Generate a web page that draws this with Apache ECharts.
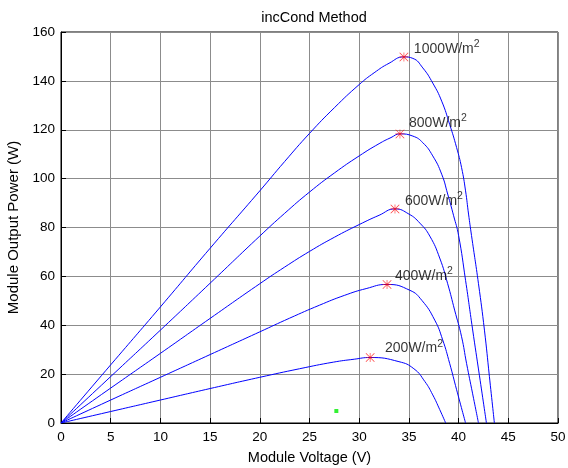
<!DOCTYPE html>
<html>
<head>
<meta charset="utf-8">
<script src="https://cdn.jsdelivr.net/npm/echarts@6/dist/echarts.min.js"></script>
<style>html,body{margin:0;padding:0;background:#fff;}#c{width:568px;height:468px;}</style>
</head>
<body>
<div id="c"></div>
<script>
var titleText = 'incCond Method';
var xName = 'Module Voltage (V)';
var yName = 'Module Output Power (W)';

var curve1000 = [[0,0],[5,23.8],[10,47.5],[15,71.5],[20,95],[22.5,107],[25,118.5],[27.5,129],[30,138.5],[31.5,143.3],[33,147.2],[34.5,149.8],[35.4,149.2],[36.4,145.3],[37.4,139.1],[38.3,131.7],[39.1,122.2],[39.8,112.7],[40.3,104.5],[40.7,95],[41.0,85.5],[41.3,76.7],[42.0,57],[42.6,38],[43.1,19],[43.6,0]];
var curve800 = [[0,0],[5,19],[10,38],[15,57.2],[20,76.5],[22.5,85.8],[25,94.5],[27.5,102.3],[30,109.3],[32,114.3],[33.2,116.8],[34.1,118.3],[35.4,117.4],[36.4,114.7],[37.4,109.3],[38.3,101.8],[38.9,93.7],[39.5,84.8],[40.0,76.7],[40.7,58.4],[41.4,38.5],[42.1,19.3],[42.8,0]];
var curve600 = [[0,0],[5,14.3],[10,28.5],[15,42.8],[20,57],[22.5,63.8],[25,70.2],[27.5,76],[30,81.2],[32,85],[33.6,87.6],[35.0,85.5],[36.1,81.8],[37.1,76.5],[38.1,67.5],[38.9,57],[39.6,46.2],[40.3,35.3],[40.8,24.4],[41.4,12.2],[42.0,0]];
var curve400 = [[0,0],[5,9.4],[10,18.7],[15,28],[20,37.3],[23,42.9],[26,48.2],[28.5,52.2],[30.7,55],[32.8,56.7],[35.1,54.3],[36.3,50.2],[37.6,42.1],[38.4,34],[39.1,24.4],[39.8,13.6],[40.7,0]];
var curve200 = [[0,0],[5,4.7],[10,9.4],[15,14.1],[20,18.7],[24,22.2],[27.4,24.9],[29.5,26.1],[31.1,26.8],[34.0,25.1],[35.5,22.2],[36.6,17],[37.4,11.5],[38.1,5.5],[38.7,0]];

var mppPoints = [[34.5,149.8],[34.1,118.3],[33.6,87.6],[32.8,56.7],[31.1,26.8]];
var greenPoint = [[27.7,4.9]];

var labelNames = ['1000','800','600','400','200'];
var labelPos = [[35.5,153.7],[35.0,123.5],[34.6,91.5],[33.6,60.8],[32.6,31.2]];

var xTicks = [0,5,10,15,20,25,30,35,40,45,50];
var yTicks = [0,20,40,60,80,100,120,140,160];

var FONT = 'Liberation Sans, Arial, Helvetica, sans-serif';
var starPath = 'path://M0 9.3L20 9.3L20 10.7L0 10.7Z M9.3 0L10.7 0L10.7 20L9.3 20Z M1 0L20 19L19 20L0 1Z M19 0L20 1L1 20L0 19Z';

var curves = [curve1000, curve800, curve600, curve400, curve200];
var series = curves.map(function (d) {
  return {type: 'line', data: d, smooth: 0.5, showSymbol: false, symbol: 'none',
    lineStyle: {color: '#0000ff', width: 1}, z: 3};
});
series.push({type: 'scatter', data: mppPoints, symbol: starPath, symbolSize: 9,
  itemStyle: {color: '#ff0000'}, z: 5});
series.push({type: 'scatter', data: greenPoint, symbol: 'rect', symbolSize: 4,
  itemStyle: {color: '#00ee00'}, z: 5});
series.push({type: 'scatter', symbolSize: 0, z: 6,
  data: labelPos.map(function (p, i) { return {value: p, name: labelNames[i]}; }),
  label: {show: true, position: [0, 0], align: 'left', verticalAlign: 'middle', color: '#000',
    formatter: function (p) { return '{a|' + p.name + 'W/m}{s|2}'; },
    rich: {
      a: {fontSize: 14, fontFamily: FONT, color: '#000', lineHeight: 17, verticalAlign: 'bottom'},
      s: {fontSize: 10.5, fontFamily: FONT, color: '#000', lineHeight: 17, verticalAlign: 'top', padding: [0,0,8,0]}
    }},
  emphasis: {disabled: true}
});

var chart = echarts.init(document.getElementById('c'), null, {renderer: 'canvas'});
chart.setOption({
  animation: false,
  backgroundColor: '#fff',
  title: {text: titleText, left: 309, top: 5, textAlign: 'center',
    textStyle: {fontSize: 14.5, fontWeight: 'normal', color: '#000', fontFamily: FONT}},
  grid: {left: 61, right: 10, top: 32, bottom: 45, containLabel: false, outerBoundsMode: 'none',
    show: true, borderColor: '#000', borderWidth: 1, backgroundColor: 'transparent'},
  xAxis: {type: 'value', min: 0, max: 50, interval: 5,
    name: xName, nameLocation: 'middle', nameGap: 27,
    nameTextStyle: {fontSize: 14.5, color: '#000', fontFamily: FONT},
    axisLine: {show: true, onZero: false, lineStyle: {color: '#000', width: 1}},
    axisTick: {show: true, inside: true, length: 5, lineStyle: {color: '#000'}},
    axisLabel: {color: '#000', fontSize: 13.5, fontFamily: FONT, margin: 7,
      formatter: function (v) { return xTicks.indexOf(v) >= 0 ? String(v) : ''; }},
    splitLine: {show: true, lineStyle: {color: '#8c8c8c', width: 1}}},
  yAxis: {type: 'value', min: 0, max: 160, interval: 20,
    name: yName, nameLocation: 'middle', nameGap: 29, nameRotate: 90,
    nameTextStyle: {fontSize: 15, color: '#000', fontFamily: FONT},
    axisLine: {show: true, onZero: false, lineStyle: {color: '#000', width: 1}},
    axisTick: {show: true, inside: true, length: 5, lineStyle: {color: '#000'}},
    axisLabel: {color: '#000', fontSize: 13.5, fontFamily: FONT, margin: 6,
      formatter: function (v) { return yTicks.indexOf(v) >= 0 ? String(v) : ''; }},
    splitLine: {show: true, lineStyle: {color: '#8c8c8c', width: 1}}},
  series: series
});
</script>
</body>
</html>
